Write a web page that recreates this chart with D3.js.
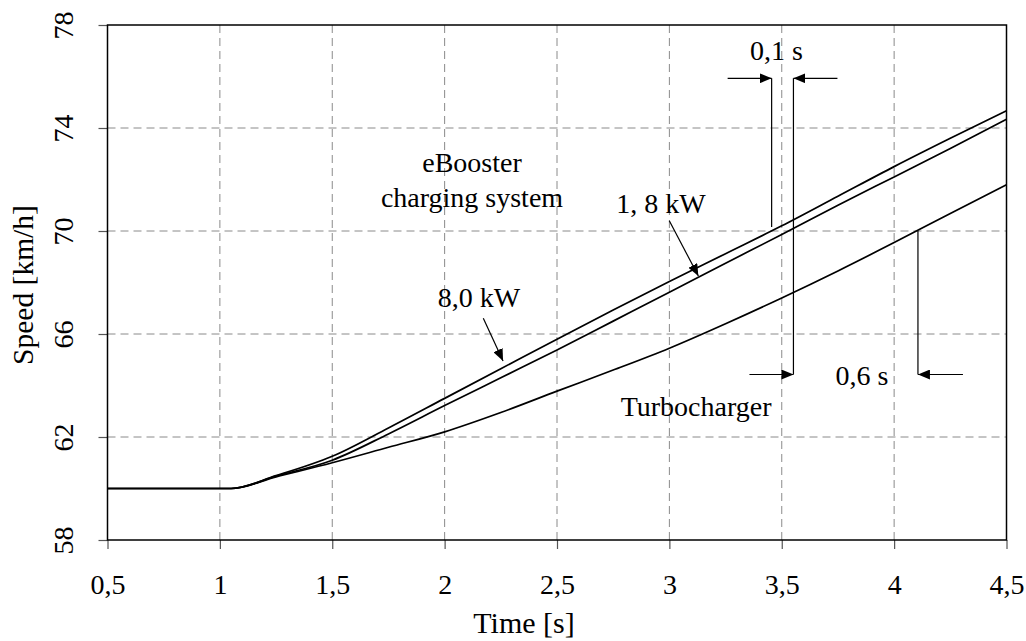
<!DOCTYPE html>
<html>
<head>
<meta charset="utf-8">
<script src="https://cdn.jsdelivr.net/npm/d3@7/dist/d3.min.js"></script>
<style>
  html, body { margin: 0; padding: 0; background: #fff; }
  svg { display: block; }
  svg text { font-family: "Liberation Serif", "Times New Roman", serif !important; fill: #000; }
</style>
</head>
<body>
<svg id="chart" width="1026" height="641"></svg>
<script>
// Vehicle speed during acceleration, sampled every 0.25 s
const time = [0.5, 1.0, 1.05, 1.25, 1.5, 1.75, 2.0, 2.25, 2.5, 2.75, 3.0, 3.25, 3.5, 3.75, 4.0, 4.25, 4.5];
const speedEbooster8kW = [60, 60, 60, 60.5, 61.25, 62.35, 63.5, 64.65, 65.8, 66.93, 68.04, 69.12, 70.2, 71.35, 72.5, 73.6, 74.67];
const speedEbooster18kW = [60, 60, 60, 60.48, 61.1, 62.12, 63.22, 64.3, 65.38, 66.5, 67.62, 68.75, 69.86, 71.0, 72.1, 73.2, 74.34];
const speedTurbo = [60, 60, 60, 60.45, 61.0, 61.6, 62.2, 62.95, 63.78, 64.6, 65.45, 66.4, 67.4, 68.45, 69.55, 70.68, 71.8];

const xTicks = [0.5, 1, 1.5, 2, 2.5, 3, 3.5, 4, 4.5];
const xTickLabels = ["0,5", "1", "1,5", "2", "2,5", "3", "3,5", "4", "4,5"];
const yTicks = [58, 62, 66, 70, 74, 78];

// Times at which each system reaches 70 km/h
const reach70 = { kw8: 3.455, kw18: 3.552, turbo: 4.106 };
const targetSpeed = 70;

const margin = { left: 107.5, right: 19.5, top: 25, bottom: 101 };
const W = 1026, H = 641;
const SERIF = "'Liberation Serif', 'Times New Roman', serif";
const svg = d3.select("#chart");

const x = d3.scaleLinear().domain([0.5, 4.5]).range([margin.left, W - margin.right]);
const y = d3.scaleLinear().domain([58, 78]).range([H - margin.bottom, margin.top]);

const FONT = 28;

// grid
const grid = svg.append("g").attr("stroke", "#8a8a8a").attr("stroke-width", 1).attr("stroke-dasharray", "8,5");
grid.selectAll("line.v").data(xTicks.slice(1, -1)).join("line")
  .attr("x1", d => x(d)).attr("x2", d => x(d))
  .attr("y1", y(78)).attr("y2", y(58));
grid.selectAll("line.h").data(yTicks.slice(1, -1)).join("line")
  .attr("x1", x(0.5)).attr("x2", x(4.5))
  .attr("y1", d => y(d)).attr("y2", d => y(d));

// axes
const xAxis = svg.append("g")
  .attr("transform", `translate(0,${y(58)})`)
  .call(d3.axisBottom(x).tickValues(xTicks).tickFormat((d, i) => xTickLabels[i]).tickSize(9).tickPadding(0).tickSizeOuter(0))
  .attr("font-family", SERIF).attr("font-size", FONT);
xAxis.select(".domain").remove();
xAxis.selectAll(".tick line").attr("stroke", "#555").attr("stroke-width", 1.2);
xAxis.selectAll(".tick text").attr("dy", null).attr("y", 54).attr("fill", "#000");

const yAxis = svg.append("g")
  .attr("transform", `translate(${x(0.5)},0)`)
  .call(d3.axisLeft(y).tickValues(yTicks).tickSize(9).tickSizeOuter(0))
  .attr("font-family", SERIF).attr("font-size", FONT);
yAxis.select(".domain").remove();
yAxis.selectAll(".tick line").attr("stroke", "#555").attr("stroke-width", 1.2);
yAxis.selectAll(".tick text").attr("x", null).attr("dy", null)
  .attr("text-anchor", "middle").attr("transform", "translate(-34.5,0) rotate(-90)").attr("fill", "#000");

// frame
svg.append("rect")
  .attr("x", x(0.5)).attr("y", y(78))
  .attr("width", x(4.5) - x(0.5)).attr("height", y(58) - y(78))
  .attr("fill", "none").attr("stroke", "#000").attr("stroke-width", 1.5);

// axis titles
svg.append("text").attr("x", 524).attr("y", 633).attr("text-anchor", "middle")
  .attr("font-family", SERIF).attr("font-size", 30).text("Time [s]");
svg.append("text").attr("transform", `translate(33,${285}) rotate(-90)`).attr("text-anchor", "middle")
  .attr("font-family", SERIF).attr("font-size", 29.5).text("Speed [km/h]");

// speed curves
svg.append("clipPath").attr("id", "plot").append("rect")
  .attr("x", x(0.5)).attr("y", y(78)).attr("width", x(4.5) - x(0.5)).attr("height", y(58) - y(78));
const line = d3.line().x(d => x(d[0])).y(d => y(d[1])).curve(d3.curveMonotoneX);
const series = [speedEbooster8kW, speedEbooster18kW, speedTurbo];
svg.append("g").attr("clip-path", "url(#plot)")
  .selectAll("path").data(series).join("path")
  .attr("d", s => line(time.map((t, i) => [t, s[i]])))
  .attr("fill", "none").attr("stroke", "#000").attr("stroke-width", 1.7);

// arrow markers
const defs = svg.append("defs");
defs.append("marker").attr("id", "head").attr("viewBox", "0 0 12 10")
  .attr("refX", 12).attr("refY", 5).attr("markerWidth", 12).attr("markerHeight", 10)
  .attr("markerUnits", "userSpaceOnUse").attr("orient", "auto")
  .append("path").attr("d", "M0,0 L12,5 L0,10 Z").attr("fill", "#000");

const ann = svg.append("g").attr("stroke", "#000").attr("stroke-width", 1.2);

// 0,1 s dimension between the two eBooster curves
const yTop = 78.3, yBot = 374.5;
ann.append("line").attr("x1", x(reach70.kw8)).attr("x2", x(reach70.kw8))
  .attr("y1", yTop).attr("y2", y(targetSpeed) - 4);
ann.append("line").attr("x1", x(reach70.kw18)).attr("x2", x(reach70.kw18))
  .attr("y1", yTop).attr("y2", yBot);
ann.append("line").attr("x1", x(reach70.kw8) - 44).attr("x2", x(reach70.kw8))
  .attr("y1", yTop).attr("y2", yTop).attr("marker-end", "url(#head)");
ann.append("line").attr("x1", x(reach70.kw18) + 44).attr("x2", x(reach70.kw18))
  .attr("y1", yTop).attr("y2", yTop).attr("marker-end", "url(#head)");

// 0,6 s dimension between eBooster 1,8 kW and the turbocharger
ann.append("line").attr("x1", x(reach70.turbo)).attr("x2", x(reach70.turbo))
  .attr("y1", y(targetSpeed)).attr("y2", yBot);
ann.append("line").attr("x1", x(reach70.kw18) - 44).attr("x2", x(reach70.kw18))
  .attr("y1", yBot).attr("y2", yBot).attr("marker-end", "url(#head)");
ann.append("line").attr("x1", x(reach70.turbo) + 45).attr("x2", x(reach70.turbo))
  .attr("y1", yBot).attr("y2", yBot).attr("marker-end", "url(#head)");

// leader arrows to the curves
ann.append("line").attr("x1", 483.3).attr("y1", 318.3).attr("x2", x(2.26)).attr("y2", y(64.95))
  .attr("marker-end", "url(#head)");
ann.append("line").attr("x1", 669.3).attr("y1", 220.7).attr("x2", x(3.129)).attr("y2", y(68.25))
  .attr("marker-end", "url(#head)");

// labels
const labels = [
  { text: "eBooster", x: 472, y: 172, anchor: "middle" },
  { text: "charging system", x: 472, y: 207, anchor: "middle" },
  { text: "8,0 kW", x: 479, y: 307, anchor: "middle" },
  { text: "1, 8 kW", x: 661, y: 213, anchor: "middle" },
  { text: "0,1 s", x: 776.5, y: 60, anchor: "middle" },
  { text: "0,6 s", x: 862, y: 385, anchor: "middle" },
  { text: "Turbocharger", x: 771.5, y: 416, anchor: "end" }
];
svg.append("g").selectAll("text").data(labels).join("text")
  .attr("x", d => d.x).attr("y", d => d.y).attr("text-anchor", d => d.anchor)
  .attr("font-family", SERIF).attr("font-size", FONT).text(d => d.text);
</script>
</body>
</html>
